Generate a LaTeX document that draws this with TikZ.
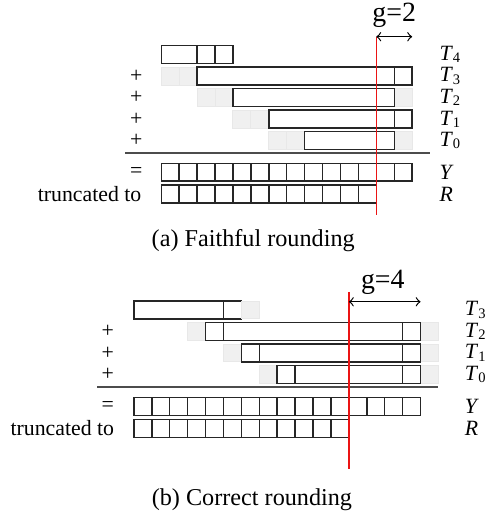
\documentclass[tikz,border=0pt]{standalone}
\usepackage{fontspec}
\setmainfont{Liberation Serif}
\usetikzlibrary{positioning,arrows}
\definecolor{cutred}{RGB}{235,20,20}

\begin{document}
\begin{tikzpicture}[x=7.405pt, y=-7.405pt,
                cell/.style={draw=black!85, line width=0.6pt},
                pad/.style={fill=black!6, draw=black!9, line width=0.4pt},
                sumline/.style={draw=black!70, line width=0.7pt},
                guard/.style={draw=cutred, line width=0.55pt},
                span/.style={<->, line width=0.5pt},
                lbl/.style={font=\fontsize{9}{10}\selectfont, inner sep=0pt},
                gap/.style={font=\fontsize{11.5}{13}\selectfont, inner sep=0pt},
                capt/.style={font=\fontsize{10}{12}\selectfont, inner sep=0pt}
            ]
            \useasboundingbox (0,0) rectangle (27.29,28.74);

            % (a) faithful rounding
            \begin{scope}[shift={(9,2.55)}]
                \draw[cell] (0,0) rectangle (2,1) (2,0) rectangle (3,1) (3,0) rectangle (4,1);
                \draw[pad] (0,1.2) rectangle (1,2.2) (1,1.2) rectangle (2,2.2);
                \draw[cell] (2,1.2) rectangle (13,2.2) (13,1.2) rectangle (14,2.2);
                \draw[pad] (2,2.4) rectangle (3,3.4) (3,2.4) rectangle (4,3.4) (13,2.4) rectangle (14,3.4);
                \draw[cell] (4,2.4) rectangle (13,3.4);
                \draw[pad] (4,3.6) rectangle (5,4.6) (5,3.6) rectangle (6,4.6);
                \draw[cell] (6,3.6) rectangle (13,4.6) (13,3.6) rectangle (14,4.6);
                \draw[pad] (6,4.8) rectangle (7,5.8) (7,4.8) rectangle (8,5.8) (13,4.8) rectangle (14,5.8);
                \draw[cell] (8,4.8) rectangle (13,5.8);
                \foreach \i in {0,...,13}
                    \draw[cell] (\i,6.56) rectangle ++(1,1);
                \foreach \i in {0,...,11}
                    \draw[cell] (\i,7.77) rectangle ++(1,1);

                \coordinate (sumLa) at (-2,6);
                \coordinate (sumRa) at (15,6);
                \draw[sumline] (sumLa) -- (sumRa);

                \coordinate (cutTa) at (12,-0.5);
                \coordinate (cutBa) at (12,9.45);
                \coordinate (gapEa) at (14,-0.5);
                \draw[guard] (cutTa) -- (cutBa);
                \draw[span] (cutTa) -- (gapEa);
                \node (ga) [gap] at (13,-1.69) {g=2};

                \foreach \k/\t in {0/4,1/3,2/2,3/1,4/0}
                    \node (Ta\t) [lbl, anchor=west] at (15.5,1.2*\k+0.5) {\textit{T}\textsubscript{\t}};
                \node (Ya) [lbl, anchor=west] at (15.5,7.06) {\textit{Y}};
                \node (Ra) [lbl, anchor=west] at (15.5,8.27) {\textit{R}};

                \foreach \k in {1,...,4}
                    \node (plusa\k) [lbl] at (-1.4,1.2*\k+0.5) {+};
                \node (eqa) [lbl] at (-1.4,7.06) {=};
                \node (trunca) [lbl, anchor=east] at (-1.09,8.27) {truncated to};

                \node (capa) [capt] at (5.13,10.89) {(a) Faithful rounding};
            \end{scope}

            % (b) correct rounding
            \begin{scope}[shift={(7.47,16.8)}]
                \draw[cell] (0,0) rectangle (5,1) (5,0) rectangle (6,1);
                \draw[pad] (6,0) rectangle (7,1);
                \foreach \k/\st in {1/3,2/5,3/7} {
                    \draw[pad] (\st,1.2*\k) rectangle ++(1,1) (16,1.2*\k) rectangle ++(1,1);
                    \draw[cell] (\st+1,1.2*\k) rectangle ++(1,1) (\st+2,1.2*\k) rectangle (15,1.2*\k+1)
                                (15,1.2*\k) rectangle ++(1,1);
                }
                \foreach \i in {0,...,15}
                    \draw[cell] (\i,5.39) rectangle ++(1,1);
                \foreach \i in {0,...,11}
                    \draw[cell] (\i,6.6) rectangle ++(1,1);

                \coordinate (sumLb) at (-2.05,4.8);
                \coordinate (sumRb) at (17,4.8);
                \draw[sumline] (sumLb) -- (sumRb);

                \coordinate (cutTb) at (12,-0.51);
                \coordinate (cutBb) at (12,9.4);
                \coordinate (gapSb) at (12,0.04);
                \coordinate (gapEb) at (16,0.04);
                \draw[guard] (cutTb) -- (cutBb);
                \draw[span] (gapSb) -- (gapEb);
                \node (gb) [gap] at (13.89,-1.04) {g=4};

                \foreach \k/\t in {0/3,1/2,2/1,3/0}
                    \node (Tb\t) [lbl, anchor=west] at (18.45,1.2*\k+0.5) {\textit{T}\textsubscript{\t}};
                \node (Yb) [lbl, anchor=west] at (18.45,5.89) {\textit{Y}};
                \node (Rb) [lbl, anchor=west] at (18.45,7.1) {\textit{R}};

                \foreach \k in {1,...,3}
                    \node (plusb\k) [lbl] at (-1.45,1.2*\k+0.5) {+};
                \node (eqb) [lbl] at (-1.45,5.89) {=};
                \node (truncb) [lbl, anchor=east] at (-1.08,7.1) {truncated to};

                \node (capb) [capt] at (6.59,11.07) {(b) Correct rounding};
            \end{scope}
\end{tikzpicture}
\end{document}
